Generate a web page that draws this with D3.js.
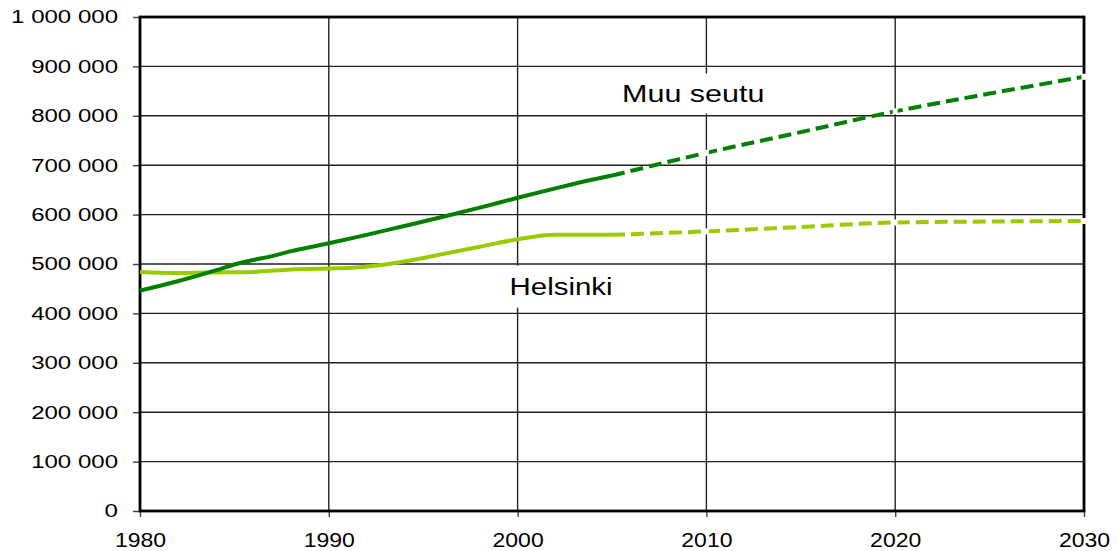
<!DOCTYPE html>
<html>
<head>
<meta charset="utf-8">
<script src="https://cdn.jsdelivr.net/npm/d3@7"></script>
<style>
body{margin:0;background:#fff}
text{font-family:"Liberation Sans",Arial,sans-serif;fill:#000}
</style>
</head>
<body>
<div class="chart"></div>
<script>
// Muu seutu (rest of region) - observed and projection
const muuYears = [1980,1982,1984,1985,1986,1987,1988,1989,1990,1992,1994,1996,1998,2000,2002,2004,2005]
const muuValues = [446000,465000,487000,499000,508000,516000,526000,534000,542000,559000,577000,595000,614000,634000,653000,671000,679000]
const muuProjYears = [2005,2010,2015,2020,2025,2030]
const muuProjValues = [679000,725000,767000,809000,845000,879000]

// Helsinki
const helYears = [1980,1982,1984,1986,1988,1990,1991,1993,1995,1996,1998,2000,2002,2005]
const helValues = [484000,482000,483000,484000,489000,491000,492000,499000,512000,520000,535000,550000,559000,559000]
const helProjYears = [2005,2010,2015,2020,2025,2030]
const helProjValues = [559000,566000,575000,584000,586000,587000]

const xTicks = [1980,1990,2000,2010,2020,2030]
const yTicks = [0,100000,200000,300000,400000,500000,600000,700000,800000,900000,1000000]

const width = 1117, height = 551
const margin = ({top: 17, right: 33, bottom: 40, left: 140})

const svg = d3.select(".chart").append("svg")
  .attr("width", width)
  .attr("height", height)

const x = d3.scaleLinear().domain([1980, 2030]).range([margin.left, width - margin.right])
const y = d3.scaleLinear().domain([0, 1000000]).range([height - margin.bottom, margin.top])

const zip = (a, b) => a.map((d, i) => ({year: d, value: b[i]}))

// gridlines
svg.append("g")
  .selectAll("line")
  .data(yTicks)
  .enter().append("line")
  .attr("x1", x(1980)).attr("x2", x(2030))
  .attr("y1", d => y(d)).attr("y2", d => y(d))
  .attr("stroke", "#222").attr("stroke-width", 1.4)

svg.append("g")
  .selectAll("line")
  .data(xTicks)
  .enter().append("line")
  .attr("x1", d => x(d)).attr("x2", d => x(d))
  .attr("y1", y(0)).attr("y2", y(1000000))
  .attr("stroke", "#222").attr("stroke-width", 1.4)

// label boxes (white, cover gridlines)
const labels = [
  {text: "Muu seutu", year: 2009.3, value: 827000, size: 24, sx: 1.27, box: [-78, -29, 156, 40]},
  {text: "Helsinki", year: 2002.3, value: 438000, size: 23, sx: 1.28, box: [-60, -29, 120, 42]}
]

labels.forEach(l => {
  svg.append("rect")
    .attr("x", x(l.year) + l.box[0])
    .attr("y", y(l.value) + l.box[1])
    .attr("width", l.box[2])
    .attr("height", l.box[3])
    .attr("fill", "white")
})

// axes
const yAxis = d3.axisLeft(y)
  .tickValues(yTicks)
  .tickSize(7)
  .tickFormat(d => d3.format(",")(d).replace(/,/g, " "))

const yAxisGroup = svg.append("g")
  .attr("transform", `translate(${margin.left},0)`)
  .call(yAxis)
yAxisGroup.select(".domain").remove()
yAxisGroup.selectAll(".tick line").attr("stroke", "#444").attr("stroke-width", 1.4)
yAxisGroup.selectAll("text")
  .attr("font-size", 18.5)
  .attr("font-family", "Liberation Sans, Arial, sans-serif")
  .attr("x", -22 / 1.3)
  .attr("transform", "scale(1.3,1)")

const xAxis = d3.axisBottom(x)
  .tickValues(xTicks)
  .tickSize(6)
  .tickFormat(d3.format("d"))

const xAxisGroup = svg.append("g")
  .attr("transform", `translate(0,${height - margin.bottom})`)
  .call(xAxis)
xAxisGroup.select(".domain").remove()
xAxisGroup.selectAll(".tick line").attr("stroke", "#444").attr("stroke-width", 1.4)
xAxisGroup.selectAll("text")
  .attr("font-size", 20)
  .attr("font-family", "Liberation Sans, Arial, sans-serif")
  .attr("y", 36.5)
  .attr("dy", 0)
  .attr("transform", "scale(1.15,1)")
  .attr("x", 0)

// frame
svg.append("rect")
  .attr("x", x(1980)).attr("y", y(1000000))
  .attr("width", x(2030) - x(1980))
  .attr("height", y(0) - y(1000000))
  .attr("fill", "none")
  .attr("stroke", "#000")
  .attr("stroke-width", 2.8)

// lines
const line = d3.line()
  .x(d => x(d.year))
  .y(d => y(d.value))
  .curve(d3.curveMonotoneX)

const series = [
  {data: zip(helYears, helValues), proj: zip(helProjYears, helProjValues), color: "#99cc00"},
  {data: zip(muuYears, muuValues), proj: zip(muuProjYears, muuProjValues), color: "#008000"}
]

series.forEach(s => {
  svg.append("path")
    .datum(s.data)
    .attr("d", line)
    .attr("fill", "none")
    .attr("stroke", s.color)
    .attr("stroke-width", 4)

  svg.append("path")
    .datum(s.proj)
    .attr("d", line)
    .attr("fill", "none")
    .attr("stroke", s.color)
    .attr("stroke-width", 4)
    .attr("stroke-dasharray", "13,6")
})

// small white markers at the decade points of the projections
series.forEach(s => {
  svg.append("g")
    .selectAll("rect")
    .data(s.proj.filter(d => d.year % 10 == 0 && d.year > 2005))
    .enter().append("rect")
    .attr("x", d => x(d.year) - 2.5)
    .attr("y", d => y(d.value) - 3)
    .attr("width", 5)
    .attr("height", 6)
    .attr("fill", "white")
})

// series labels
labels.forEach(l => {
  svg.append("text")
    .attr("transform", `translate(${x(l.year)},${y(l.value)}) scale(${l.sx},1)`)
    .attr("text-anchor", "middle")
    .attr("font-size", l.size)
    .text(l.text)
})
</script>
</body>
</html>
